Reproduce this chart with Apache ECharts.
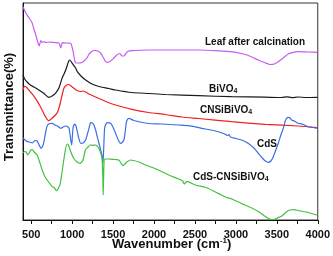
<!DOCTYPE html>
<html><head><meta charset="utf-8">
<script src="https://cdn.jsdelivr.net/npm/echarts@6/dist/echarts.min.js"></script>
<style>html,body{margin:0;padding:0;background:#fff}#c{width:333px;height:256px}</style>
</head><body><div id="c"></div>
<script>
const xTickLabels = [500,1000,1500,2000,2500,3000,3500,4000];
const xTicks = [500,750,1000,1250,1500,1750,2000,2250,2500,2750,3000,3250,3500,3750,4000];
const seriesNames = ['Leaf after calcination','BiVO4','CNSiBiVO4','CdS','CdS-CNSiBiVO4'];
const leaf = [[400,213.3],[435,207],[475,202],[512,197],[533,191],[557,185],[573,180],[597,174],[618,179.5],[634,177.5],[658,178.5],[680,177.5],[719,178],[780,177.5],[840,177],[861,172],[881,177.3],[938,177],[983,176.7],[999,173],[1011,169],[1023,163],[1036,158.3],[1048,157],[1084,157],[1120,157.5],[1145,159],[1181,162],[1206,166],[1226,167.5],[1254,169.2],[1287,169.5],[1315,169],[1348,167],[1370,164],[1388,161.5],[1409,158.3],[1431,157.7],[1470,159],[1510,162],[1546,165],[1571,166.5],[1591,166],[1607,164],[1632,164],[1656,166.5],[1680,168.5],[1729,169.3],[1936,170],[2301,170],[2544,170],[2788,169.2],[2946,168.3],[3092,166],[3189,163.3],[3274,160],[3356,157.3],[3417,155.5],[3469,156],[3517,158.3],[3578,162],[3639,166],[3700,167.7],[3761,168.3],[3882,168],[3996,167.7]];
const bivo4 = [[400,145],[420,141],[450,138],[490,135],[533,133],[593,130],[654,126.7],[715,122.7],[755,124],[796,126.7],[837,131.7],[877,141.7],[901,146],[922,150],[942,155],[956,158.5],[971,160],[987,158.5],[1002,156.7],[1044,151.7],[1063,148.3],[1108,144],[1165,140],[1242,136],[1327,133.5],[1449,131.5],[1531,130],[1729,127.5],[1936,126.5],[2139,125.5],[2544,124.3],[2946,123.3],[3356,122.8],[3560,122.5],[3620,123.2],[3680,122.4],[3761,123],[3850,122.5],[3996,122.7]];
const cnsi = [[400,130],[421,134],[451,132],[491,128],[552,121.7],[613,113.3],[674,103.3],[715,99.3],[755,101.7],[796,105],[822,108],[853,116],[877,125],[901,132],[926,134.5],[956,135.5],[987,134],[1023,131.7],[1060,129.5],[1105,128.5],[1133,129],[1165,128],[1206,126],[1287,123],[1327,121.5],[1425,118],[1531,115],[1729,110.7],[1936,107.5],[2139,105.5],[2341,103],[2544,101.5],[2946,98.3],[3356,95.7],[3761,94],[3996,92.5]];
const cds = [[400,82],[439,79],[475,78],[516,77],[548,79.5],[573,79],[597,75],[621,71.7],[646,75],[664,82],[682,90],[700,95],[731,96.5],[759,96.7],[792,95],[820,94],[861,91.7],[889,93],[922,94],[944,93.5],[962,91.7],[974,86],[983,80],[995,75],[1004,85],[1014,93.3],[1031,96],[1047,94],[1063,88.3],[1084,81],[1105,76.7],[1133,77],[1165,80],[1187,86],[1206,91.7],[1226,97.3],[1248,97],[1266,95],[1287,90],[1307,83.3],[1327,77],[1348,70],[1364,65],[1376,56.7],[1385,70],[1392,85],[1400,93.3],[1428,97.3],[1470,96.7],[1498,93],[1531,86.7],[1559,81],[1591,76.7],[1611,77.5],[1632,80],[1648,88],[1660,96.7],[1675,100.5],[1692,101.7],[1753,99.5],[1814,98.3],[1936,96.5],[2098,96],[2301,95],[2423,94.3],[2581,91.7],[2727,89.5],[2849,86.5],[2898,84.5],[2916,85.5],[2934,83],[3068,80],[3153,76.5],[3226,71.5],[3274,66.7],[3323,62],[3360,59],[3397,57.7],[3427,59],[3457,63.3],[3488,70],[3518,76.7],[3549,85],[3579,91.7],[3603,99],[3619,101.7],[3640,102.7],[3660,102],[3680,100],[3713,99],[3761,96.7],[3822,95.5],[3882,93.3],[3943,92.5],[3996,91.7]];
const cdsCnsi = [[400,67],[418,68.5],[439,68],[457,65],[475,67],[496,70],[512,70.5],[536,68],[573,65],[603,58],[634,50],[664,44],[694,40],[731,36],[755,33.5],[780,32.5],[808,29.3],[834,32],[856,36.7],[877,48],[898,60],[917,70],[938,76],[956,75],[980,69],[1019,61.7],[1060,58],[1100,56.7],[1133,60],[1161,70],[1194,73],[1222,75],[1254,74.7],[1287,75],[1315,73],[1335,70],[1357,65],[1367,60],[1376,40],[1379,25],[1384,40],[1392,60.7],[1413,61],[1449,61],[1489,60.7],[1534,60.5],[1571,60],[1595,57],[1620,54.3],[1644,56],[1672,58.3],[1713,60],[1814,58],[1896,55],[1997,52],[2098,48.3],[2179,45],[2301,41],[2350,39],[2368,36],[2383,37],[2399,38.7],[2504,35],[2626,32.7],[2727,29],[2812,25.5],[2885,22.5],[2909,22],[2950,21],[3068,16.5],[3193,12],[3274,8.5],[3356,3.7],[3397,1.5],[3437,0.3],[3482,1],[3518,2.5],[3558,3.7],[3615,8],[3660,10],[3713,10.3],[3761,9.5],[3882,7.5],[3996,4.7]];
const colors = ['#c45cf2','#1a1a1a','#f22020','#3a6ee6','#42c042'];

const FF = '"Liberation Sans", Arial, sans-serif';
const chart = echarts.init(document.getElementById('c'), null, {renderer:'canvas'});
const data = [leaf,bivo4,cnsi,cds,cdsCnsi];
function lbl(x,y,main,sub){
  return {type:'text', left:x, top:y, style:{
    text: sub ? '{a|'+main+'}{s|'+sub+'}' : '{a|'+main+'}',
    rich:{a:{fontSize:10,fontWeight:'bold',fontFamily:FF,fill:'#111'},
          s:{fontSize:7,fontWeight:'bold',fontFamily:FF,fill:'#111',padding:[4,0,0,0]}}
  }};
}
chart.setOption({
  animation:false,
  grid:{left:23,right:14,top:3,bottom:36,show:true,borderColor:'#333',borderWidth:1},
  xAxis:{type:'value',min:400,max:4000,
    axisLine:{lineStyle:{color:'#111',width:1}},
    axisTick:{show:true,inside:false,length:4,customValues:xTicks,lineStyle:{color:'#111'}},
    axisLabel:{customValues:xTickLabels,formatter:v=>String(v),margin:9,fontSize:11,fontWeight:'bold',fontFamily:FF,color:'#111'},
    splitLine:{show:false}},
  yAxis:{type:'value',min:0,max:217,
    axisLine:{show:true,lineStyle:{color:'#111',width:1}},
    axisTick:{show:false},axisLabel:{show:false},splitLine:{show:false}},
  series:data.map((d,i)=>({name:seriesNames[i],type:'line',data:d,showSymbol:false,
    lineStyle:{color:colors[i],width:1.2},smooth:0.2})),
  graphic:[
    lbl(205,37,'Leaf after calcination'),
    lbl(209,84,'BiVO','4'),
    lbl(200,105,'CNSiBiVO','4'),
    lbl(257,139,'CdS'),
    lbl(193,172,'CdS-CNSiBiVO','4'),
    {type:'text',left:112,top:237,style:{
      text:'{a|Wavenumber (cm}{s|-1}{a|)}',
      rich:{a:{fontSize:13,fontWeight:'bold',fontFamily:FF,fill:'#111'},
            s:{fontSize:8,fontWeight:'bold',fontFamily:FF,fill:'#111',padding:[0,0,6,0]}}}},
    {type:'text',x:9,y:107,rotation:Math.PI/2,style:{
      text:'Transmittance(%)',fontSize:13,fontWeight:'bold',fontFamily:FF,fill:'#111',
      align:'center',verticalAlign:'middle'}}
  ]
});
</script></body></html>
